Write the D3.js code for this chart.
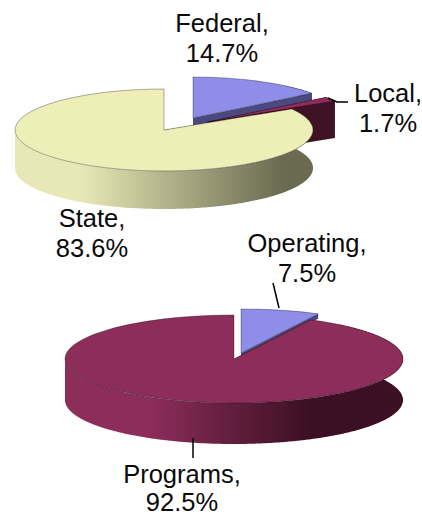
<!DOCTYPE html>
<html>
<head>
<meta charset="utf-8">
<script src="https://cdnjs.cloudflare.com/ajax/libs/d3/7.8.5/d3.min.js"></script>
<style>
html, body { margin: 0; padding: 0; background: #fff; }
svg { display: block; }
text { font-family: "Liberation Sans", Arial, sans-serif; font-size: 25.5px; fill: #0a0a0a; text-anchor: middle; }
</style>
</head>
<body>
<script>
var w = 422;
var h = 516;

// revenue pie
var revenueNames = ["Federal", "Local", "State"];
var revenueValues = [14.7, 1.7, 83.6];
// expense pie
var expenseNames = ["Operating", "Programs"];
var expenseValues = [7.5, 92.5];

var topColors = { Federal: "#8e8ee8", Local: "#8f2d5a", State: "#eeeeb9" };
var topSideDark = { Federal: "#4a4a80", Local: "#3f1226", State: "#6a6a50" };
var bottomColors = { Operating: "#8e8ee8", Programs: "#8c2d5a" };
var bottomSideDark = { Operating: "#4a4a80", Programs: "#3c1024" };

var svg = d3.select("body")
            .append("svg")
            .attr("width", w)
            .attr("height", h);

var defs = svg.append("defs");

// left to right shading on the rim of the big slices
function rimGradient(id, light, dark, from, to) {
    var g = defs.append("linearGradient").attr("id", id);
    g.append("stop").attr("offset", from).attr("stop-color", light);
    g.append("stop").attr("offset", to).attr("stop-color", dark);
}
rimGradient("rimState", "#e8e8b6", "#6a6a50", "22%", "90%");
rimGradient("rimPrograms", "#8c2d5a", "#3c1024", "25%", "72%");

var pie = d3.pie().sort(null).value(function (d) { return d.value; });

function zip(names, values) {
    return names.map(function (n, i) { return { name: n, value: values[i] }; });
}

var line = d3.line().curve(d3.curveLinear);

// one flat-projected slice: rim, cut faces, top
function drawSlice(g, slice, c, rx, ry, depth, topColor, sideDark, rimFill) {
    var x = function (a) { return c[0] + rx * Math.sin(a); };
    var y = function (a) { return c[1] - ry * Math.cos(a); };

    // cut faces
    [slice.startAngle, slice.endAngle].forEach(function (a) {
        g.append("path")
         .attr("d", line([[c[0], c[1]], [x(a), y(a)], [x(a), y(a) + depth], [c[0], c[1] + depth]]) + "Z")
         .attr("fill", sideDark);
    });

    // rim, only the part that faces the viewer
    var a0 = Math.max(slice.startAngle, Math.PI / 2 - 0.9);
    var a1 = Math.min(slice.endAngle, Math.PI * 1.5);
    var pts = d3.range(a0, a1, 0.01).concat([a1]);
    var upper = pts.map(function (a) { return [x(a), y(a)]; });
    var lower = pts.map(function (a) { return [x(a), y(a) + depth]; }).reverse();
    g.append("path")
     .attr("d", line(upper.concat(lower)) + "Z")
     .attr("fill", rimFill || sideDark);

    // top face, thin dark edge like the original
    var arc = d3.arc().innerRadius(0).outerRadius(rx);
    g.append("path")
     .attr("transform", "translate(" + c[0] + "," + c[1] + ") scale(1," + (ry / rx) + ")")
     .attr("d", arc(slice))
     .attr("fill", topColor);
    g.append("path")
     .attr("transform", "translate(" + c[0] + "," + c[1] + ") scale(1," + (ry / rx) + ")")
     .attr("d", arc(slice))
     .attr("fill", "none")
     .attr("stroke", "#000")
     .attr("stroke-opacity", 0.35)
     .attr("stroke-width", 0.9)
     .attr("vector-effect", "non-scaling-stroke");
}

// top pie
var topSlices = pie(zip(revenueNames, revenueValues));
var topCenters = { Federal: [193, 118], Local: [207, 122], State: [164, 130] };
var topDepth = { Federal: 8, Local: 37, State: 38 };
var gTop = svg.append("g");
["Federal", "Local", "State"].forEach(function (n) {
    var s = topSlices.find(function (d) { return d.data.name === n; });
    drawSlice(gTop, s, topCenters[n], 149, 41, topDepth[n], topColors[n], topSideDark[n],
              n === "State" ? "url(#rimState)" : null);
});

// bottom pie
var bottomSlices = pie(zip(expenseNames, expenseValues));
var bottomCenters = { Operating: [241, 353], Programs: [234, 359] };
var bottomDepth = { Operating: 5, Programs: 41 };
var gBottom = svg.append("g");
["Operating", "Programs"].forEach(function (n) {
    var s = bottomSlices.find(function (d) { return d.data.name === n; });
    drawSlice(gBottom, s, bottomCenters[n], n === "Programs" ? 169 : 170, 44, bottomDepth[n], bottomColors[n], bottomSideDark[n],
              n === "Programs" ? "url(#rimPrograms)" : null);
});

// leader lines
var leaders = [
    [[328, 98], [337, 102], [348, 102]],
    [[273, 283], [279, 308]],
    [[193, 438], [193, 458]]
];
svg.selectAll(".leader")
   .data(leaders)
   .enter()
   .append("path")
   .attr("class", "leader")
   .attr("d", function (d) { return line(d); })
   .attr("fill", "none")
   .attr("stroke", "#000")
   .attr("stroke-width", 1.5);

// labels, two lines each
var labels = [
    { l: ["Federal,", "14.7%"], x: 222, y: 32, step: 29.5 },
    { l: ["Local,", "1.7%"], x: 388, y: 102, step: 29.5 },
    { l: ["State,", "83.6%"], x: 92, y: 227, step: 29.5 },
    { l: ["Operating,", "7.5%"], x: 307, y: 252, step: 29.5 },
    { l: ["Programs,", "92.5%"], x: 182, y: 483, step: 27.5 }
];
labels.forEach(function (d) {
    d.l.forEach(function (t, i) {
        svg.append("text")
           .attr("x", d.x)
           .attr("y", d.y + i * d.step)
           .text(t);
    });
});
</script>
</body>
</html>
